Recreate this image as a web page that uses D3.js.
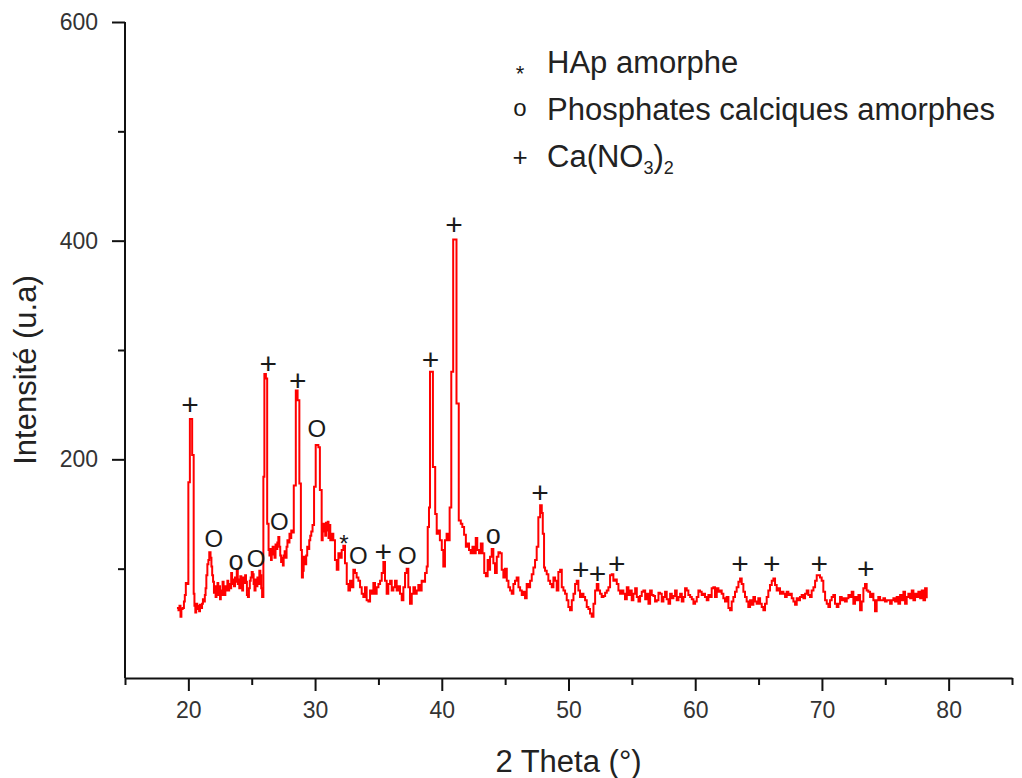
<!DOCTYPE html>
<html>
<head>
<meta charset="utf-8">
<script src="https://cdn.jsdelivr.net/npm/d3@7"></script>
<style>
    body { margin: 0; background: #fff; }
    svg { display: block; }
    text { font-family: "Liberation Sans", Arial, sans-serif; }
</style>
</head>
<body>
<div id="chart"></div>
<script>
// XRD scan: [2 theta, intensity]
const scanA = [
    [19.10, 64], [19.22, 62], [19.30, 66], [19.38, 56], [19.45, 63], [19.55, 64], [19.65, 70], [19.72, 76],
    [19.80, 87], [19.92, 86], [20.00, 179], [20.12, 237], [20.30, 204], [20.42, 77], [20.48, 66], [20.55, 60],
    [20.62, 68], [20.70, 63], [20.78, 66], [20.85, 61], [20.92, 67], [21.00, 64], [21.08, 68], [21.15, 72],
    [21.22, 70], [21.30, 76], [21.36, 82], [21.42, 94], [21.50, 104], [21.58, 108], [21.65, 115], [21.75, 110],
    [21.82, 102], [21.88, 94], [21.95, 88], [22.02, 78], [22.08, 84], [22.15, 74], [22.22, 80], [22.30, 87],
    [22.36, 76], [22.42, 84], [22.50, 72], [22.56, 80], [22.62, 76], [22.70, 88], [22.78, 82], [22.85, 76],
    [22.92, 84], [23.00, 80], [23.08, 89], [23.15, 80], [23.22, 86], [23.30, 82], [23.38, 96], [23.45, 86],
    [23.52, 90], [23.60, 84], [23.68, 92], [23.75, 88], [23.82, 99], [23.90, 86], [23.96, 90], [24.02, 82],
    [24.10, 93], [24.18, 86], [24.25, 80], [24.32, 92], [24.40, 87], [24.48, 94], [24.55, 88], [24.62, 76],
    [24.70, 74], [24.78, 82], [24.85, 89], [24.92, 92], [25.00, 97], [25.08, 95], [25.15, 86], [25.22, 80],
    [25.30, 90], [25.38, 84], [25.45, 92], [25.52, 86], [25.60, 98], [25.68, 94], [25.75, 82], [25.82, 74],
    [25.92, 184], [26.00, 278], [26.12, 274], [26.22, 141], [26.33, 117], [26.40, 112], [26.46, 118], [26.52, 108],
    [26.58, 113], [26.65, 120], [26.72, 116], [26.80, 110], [26.88, 122], [26.95, 118], [27.02, 124], [27.10, 129],
    [27.18, 120], [27.25, 112], [27.32, 106], [27.40, 110], [27.46, 103], [27.52, 112], [27.60, 116], [27.68, 110],
    [27.75, 120], [27.82, 126], [27.90, 124], [27.98, 132], [28.05, 128], [28.12, 135], [28.20, 133], [28.32, 176],
    [28.48, 263], [28.62, 254], [28.76, 178], [28.88, 117], [28.96, 92], [29.04, 98], [29.10, 111], [29.16, 106],
    [29.22, 104], [29.30, 112], [29.38, 120], [29.46, 118], [29.54, 126], [29.62, 130], [29.70, 134], [29.80, 140],
    [29.92, 175], [30.05, 213], [30.26, 211], [30.38, 172], [30.52, 126], [30.60, 134], [30.66, 141], [30.72, 136],
    [30.80, 130], [30.86, 142], [30.92, 135], [31.00, 143], [31.06, 128], [31.12, 140], [31.20, 126]
]

const scanB = [
    [31.31, 132], [31.44, 126], [31.57, 108], [31.71, 99], [31.84, 114], [31.97, 110], [32.10, 117], [32.23, 121],
    [32.36, 105], [32.50, 86], [32.63, 80], [32.76, 89], [32.89, 83], [33.02, 99], [33.15, 96], [33.28, 92],
    [33.42, 89], [33.55, 83], [33.68, 77], [33.81, 74], [33.94, 83], [34.07, 71], [34.21, 70], [34.34, 80],
    [34.47, 77], [34.60, 87], [34.73, 77], [34.86, 83], [35.00, 86], [35.13, 89], [35.26, 96], [35.39, 106],
    [35.52, 89], [35.65, 77], [35.78, 86], [35.92, 89], [36.05, 80], [36.18, 83], [36.31, 89], [36.44, 80],
    [36.57, 84], [36.70, 77], [36.84, 71], [36.97, 83], [37.10, 96], [37.23, 100], [37.36, 83], [37.49, 68],
    [37.63, 77], [37.76, 83], [37.89, 77], [38.02, 80], [38.15, 85], [38.28, 80], [38.41, 89], [38.55, 88],
    [38.68, 96], [38.81, 102], [38.89, 138], [38.99, 156], [39.07, 280], [39.30, 193], [39.48, 150], [39.60, 132],
    [39.72, 135], [39.85, 126], [40.00, 117], [40.12, 102], [40.25, 126], [40.38, 132], [40.52, 126], [40.62, 156],
    [40.75, 280], [40.90, 401], [41.16, 251], [41.34, 144], [41.50, 141], [41.62, 138], [41.76, 131], [41.90, 120],
    [42.02, 123], [42.15, 117], [42.28, 114], [42.42, 120], [42.55, 114], [42.68, 128], [42.80, 117], [42.94, 114],
    [43.08, 123], [43.22, 114], [43.35, 96], [43.48, 93], [43.62, 108], [43.75, 99]
]

const scanC = [
    [43.81, 111], [43.94, 118], [44.07, 105], [44.20, 96], [44.34, 111], [44.47, 115], [44.60, 114], [44.73, 99],
    [44.86, 92], [44.99, 100], [45.13, 89], [45.26, 83], [45.39, 80], [45.52, 77], [45.65, 86], [45.78, 89],
    [45.91, 92], [46.05, 83], [46.18, 80], [46.31, 76], [46.44, 79], [46.57, 73], [46.70, 86], [46.84, 83],
    [46.97, 89], [47.10, 95], [47.23, 101], [47.36, 108], [47.49, 120], [47.62, 147], [47.76, 158], [47.89, 151],
    [47.97, 132], [48.07, 101], [48.15, 98], [48.28, 95], [48.41, 89], [48.55, 86], [48.68, 83], [48.81, 92],
    [48.94, 89], [49.07, 80], [49.20, 97], [49.34, 99], [49.47, 83], [49.60, 80], [49.73, 77], [49.86, 71],
    [49.99, 65], [50.12, 62], [50.26, 71], [50.39, 77], [50.52, 86], [50.65, 89], [50.78, 80], [50.91, 74],
    [51.04, 77], [51.18, 74], [51.31, 71], [51.44, 65], [51.57, 63], [51.70, 59], [51.83, 56], [51.97, 68],
    [52.10, 80], [52.23, 86], [52.36, 80], [52.49, 77], [52.62, 74], [52.76, 75], [52.89, 78], [53.02, 80],
    [53.15, 83], [53.28, 94], [53.41, 95], [53.54, 89], [53.68, 90], [53.81, 86], [53.94, 80], [54.07, 77],
    [54.20, 80], [54.33, 77], [54.46, 72], [54.60, 83], [54.73, 76], [54.86, 80], [54.99, 71], [55.12, 77],
    [55.26, 82], [55.39, 74], [55.52, 70], [55.65, 75], [55.78, 79], [55.91, 80], [56.05, 72], [56.18, 77],
    [56.31, 68], [56.44, 80], [56.57, 76], [56.70, 75], [56.83, 70], [56.96, 71], [57.10, 78], [57.23, 77],
    [57.36, 70], [57.49, 74], [57.62, 79], [57.75, 72], [57.89, 68], [58.02, 77], [58.15, 73], [58.28, 75],
    [58.41, 80], [58.54, 71], [58.68, 74], [58.81, 77], [58.94, 70], [59.07, 74], [59.20, 82], [59.33, 80],
    [59.46, 76], [59.60, 74], [59.73, 72], [59.86, 68], [59.99, 70], [60.12, 74], [60.25, 80]
]

const scanD = [
    [60.38, 79], [60.51, 76], [60.64, 77], [60.77, 74], [60.91, 71], [61.04, 76], [61.17, 74], [61.30, 82],
    [61.43, 83], [61.56, 74], [61.70, 82], [61.83, 79], [61.96, 80], [62.09, 77], [62.22, 73], [62.35, 70],
    [62.48, 74], [62.62, 64], [62.75, 62], [62.88, 70], [63.01, 74], [63.14, 79], [63.27, 83], [63.41, 88],
    [63.54, 91], [63.67, 86], [63.80, 79], [63.93, 74], [64.06, 70], [64.19, 65], [64.33, 71], [64.46, 67],
    [64.59, 74], [64.72, 70], [64.85, 68], [64.98, 73], [65.12, 68], [65.25, 65], [65.38, 62], [65.51, 68],
    [65.64, 74], [65.77, 80], [65.90, 85], [66.04, 89], [66.17, 91], [66.30, 85], [66.43, 80], [66.56, 82],
    [66.69, 77], [66.83, 79], [66.96, 77], [67.09, 74], [67.22, 79], [67.35, 76], [67.48, 77], [67.62, 73],
    [67.75, 70], [67.88, 67], [68.01, 73], [68.14, 71], [68.27, 74], [68.40, 76], [68.54, 73], [68.67, 77],
    [68.80, 80], [68.93, 76], [69.06, 74], [69.19, 80], [69.33, 83], [69.46, 89], [69.59, 94], [69.72, 94],
    [69.85, 92], [69.98, 89], [70.11, 79], [70.25, 71], [70.38, 68], [70.51, 65], [70.64, 71], [70.77, 74],
    [70.90, 76], [71.03, 68], [71.17, 65], [71.30, 68], [71.43, 74], [71.56, 71], [71.69, 73], [71.82, 70],
    [71.96, 73], [72.09, 76], [72.22, 74], [72.35, 79], [72.48, 68], [72.61, 74], [72.75, 71], [72.88, 76],
    [73.01, 62], [73.14, 70], [73.27, 82], [73.40, 86], [73.53, 80], [73.66, 79], [73.80, 74], [73.93, 77],
    [74.06, 71], [74.19, 61], [74.32, 71], [74.45, 74], [74.59, 71], [74.72, 71], [74.85, 73], [74.98, 70],
    [75.11, 71], [75.24, 71], [75.38, 68], [75.51, 71], [75.64, 73], [75.77, 70], [75.90, 74], [76.03, 68],
    [76.17, 76], [76.30, 71], [76.43, 79], [76.56, 68], [76.69, 74], [76.82, 77], [76.96, 73], [77.09, 80],
    [77.22, 71], [77.35, 77], [77.48, 74], [77.61, 79], [77.75, 73], [77.88, 80], [78.01, 71], [78.14, 82],
    [78.27, 73]
]

// peak labels: position (2 theta, intensity) and phase symbol
const peakTheta = [20.13, 22.02, 23.76, 25.34, 26.31, 27.18, 28.63, 30.13, 32.28, 33.42, 35.39, 37.29,
    39.12, 40.97, 44.07, 47.75, 50.97, 52.28, 53.81, 63.54, 66.04, 69.78, 73.46]
const peakLevel = [250, 128, 105, 109, 288, 143, 272, 228, 128, 112, 116, 112,
    291, 415, 129, 170, 99, 96, 105, 105, 105, 105, 100]
const peakSymbol = ["+", "O", "o", "O", "+", "O", "+", "O", "*", "O", "+", "O",
    "+", "+", "o", "+", "+", "+", "+", "+", "+", "+", "+"]

const legendSymbols = ["*", "o", "+"]
const legendLabels = [
    [["HAp amorphe", 0]],
    [["Phosphates calciques amorphes", 0]],
    [["Ca(NO", 0], ["3", 1], [")", 0], ["2", 1]]
]

const xMajorTicks = [20, 30, 40, 50, 60, 70, 80]
const xMinorTicks = [15, 25, 35, 45, 55, 65, 75, 85]
const yMajorTicks = [200, 400, 600]
const yMinorTicks = [100, 300, 500]

function drawChart() {
    const scan = scanA.concat(scanB, scanC, scanD)

    const width = 1022
    const height = 778
    const plot = {left: 125, right: 1012, top: 22, bottom: 678}

    const svg = d3.select("#chart").append("svg")
        .attr("width", width)
        .attr("height", height)

    const xScale = d3.scaleLinear().domain([15, 85]).range([plot.left, plot.right])
    const yScale = d3.scaleLinear().domain([0, 600]).range([plot.bottom, plot.top])

    // curve
    const line = d3.line()
        .x(d => xScale(d[0]))
        .y(d => yScale(d[1]))
        .curve(d3.curveStepAfter)

    svg.append("path")
        .datum(scan)
        .attr("d", line)
        .attr("fill", "none")
        .attr("stroke", "#ff0000")
        .attr("stroke-width", 2)

    // axes
    const axisColor = "#111"
    const xMajor = svg.append("g")
        .attr("transform", `translate(0, ${plot.bottom})`)
        .call(d3.axisBottom(xScale).tickValues(xMajorTicks).tickSize(13).tickSizeOuter(0).tickPadding(11))
    const xMinor = svg.append("g")
        .attr("transform", `translate(0, ${plot.bottom})`)
        .call(d3.axisBottom(xScale).tickValues(xMinorTicks).tickSize(7).tickSizeOuter(0).tickFormat(""))
    const yMajor = svg.append("g")
        .attr("transform", `translate(${plot.left}, 0)`)
        .call(d3.axisLeft(yScale).tickValues(yMajorTicks).tickSize(13).tickSizeOuter(0).tickPadding(14))
    const yMinor = svg.append("g")
        .attr("transform", `translate(${plot.left}, 0)`)
        .call(d3.axisLeft(yScale).tickValues(yMinorTicks).tickSize(7).tickSizeOuter(0).tickFormat(""))

    xMinor.select(".domain").remove()
    yMinor.select(".domain").remove()
    yMajor.select(".domain").attr("d", `M0,${plot.bottom}V${plot.top}`)

    svg.selectAll(".domain, .tick line")
        .attr("stroke", axisColor)
        .attr("stroke-width", 2)
    svg.selectAll(".tick text")
        .attr("fill", "#333")
        .style("font-size", "23px")

    // axis titles
    svg.append("text")
        .attr("x", (plot.left + plot.right) / 2)
        .attr("y", 772)
        .attr("text-anchor", "middle")
        .attr("fill", "#222")
        .style("font-size", "31px")
        .text("2 Theta (°)")

    svg.append("text")
        .attr("transform", "translate(36, 370) rotate(-90)")
        .attr("text-anchor", "middle")
        .attr("fill", "#222")
        .style("font-size", "31px")
        .text("Intensité (u.a)")

    // peak symbols
    const glyphStyle = {
        "+": {size: 30, dy: "0.35em"},
        "O": {size: 24, dy: "0.36em"},
        "o": {size: 27, dy: "0.27em"},
        "*": {size: 24, dy: "0.58em"}
    }
    const peaks = peakTheta.map((t, i) => ({theta: t, level: peakLevel[i], symbol: peakSymbol[i]}))

    svg.append("g").selectAll("text")
        .data(peaks)
        .join("text")
            .attr("x", d => xScale(d.theta))
            .attr("y", d => yScale(d.level))
            .attr("dy", d => glyphStyle[d.symbol].dy)
            .attr("text-anchor", "middle")
            .attr("fill", "#1a1a1a")
            .style("font-size", d => glyphStyle[d.symbol].size + "px")
            .text(d => d.symbol)

    // legend
    const legendRows = [63, 110, 157]
    const legendSymbolShift = {"*": 5, "o": 0, "+": 0}
    const legend = svg.append("g")
    legendSymbols.forEach((sym, i) => {
        legend.append("text")
            .attr("x", 520)
            .attr("y", legendRows[i] + legendSymbolShift[sym])
            .attr("dy", glyphStyle[sym].dy)
            .attr("text-anchor", "middle")
            .attr("fill", "#1a1a1a")
            .style("font-size", (sym === "*" ? 22 : sym === "o" ? 24 : 26) + "px")
            .text(sym)

        const label = legend.append("text")
            .attr("x", 547)
            .attr("y", legendRows[i] + 10)
            .attr("fill", "#222")
            .style("font-size", "31px")
        legendLabels[i].forEach(part => {
            label.append("tspan")
                .attr("dy", part[1] ? 7 : (label.selectAll("tspan").size() > 1 ? -7 : 0))
                .style("font-size", part[1] ? "18px" : "31px")
                .text(part[0])
        })
    })
}

drawChart()
</script>
</body>
</html>
